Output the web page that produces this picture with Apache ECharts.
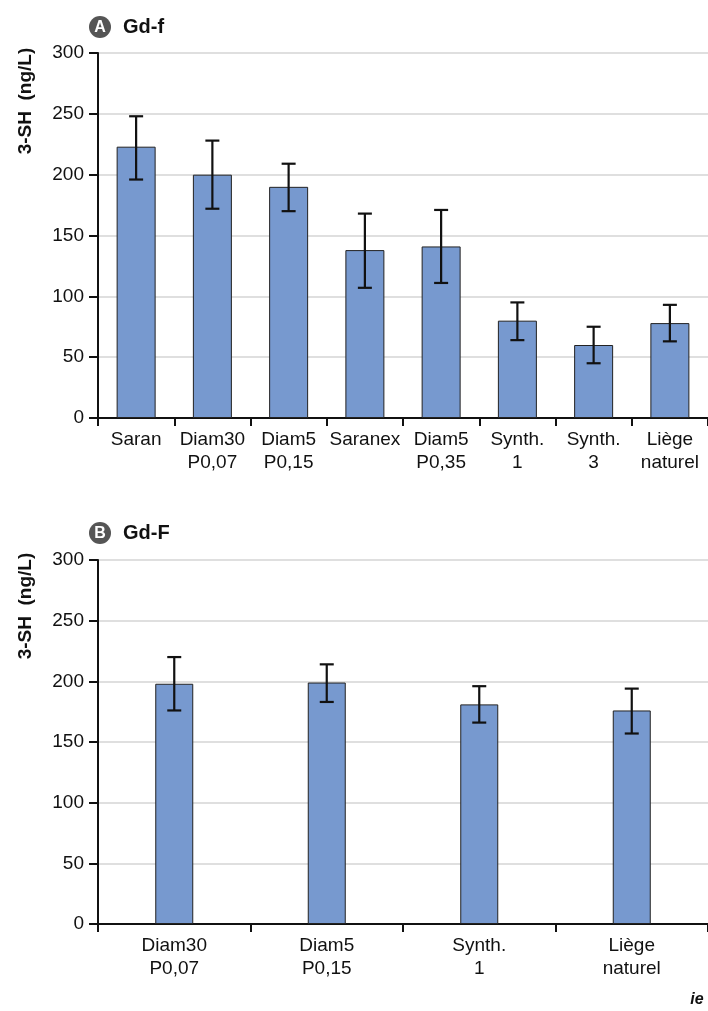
<!DOCTYPE html>
<html>
<head>
<meta charset="utf-8">
<script src="https://cdn.jsdelivr.net/npm/echarts@6/dist/echarts.min.js"></script>
<style>
  html, body { margin: 0; padding: 0; background: #fff; }
  #chart { width: 708px; height: 1011px; }
</style>
</head>
<body>
<div id="chart"></div>
<script>
// panel A : Gd-f
var catsA = ['Saran', 'Diam30\nP0,07', 'Diam5\nP0,15', 'Saranex', 'Diam5\nP0,35', 'Synth.\n1', 'Synth.\n3', 'Liège\nnaturel'];
var valsA = [223, 200, 190, 138, 141, 80, 60, 78];
var lowA  = [196, 172, 170, 107, 111, 64, 45, 63];
var highA = [248, 228, 209, 168, 171, 95, 75, 93];

// panel B : Gd-F
var catsB = ['Diam30\nP0,07', 'Diam5\nP0,15', 'Synth.\n1', 'Liège\nnaturel'];
var valsB = [198, 199, 181, 176];
var lowB  = [176, 183, 166, 157];
var highB = [220, 214, 196, 194];

var yTicks = [0, 50, 100, 150, 200, 250, 300];

var font = '"Liberation Sans", Arial, sans-serif';
var barColor = '#7799cf';

function errData(low, high) {
    var out = [];
    for (var i = 0; i < low.length; i++) out.push([i, low[i], high[i]]);
    return out;
}

function renderErr(params, api) {
    var lo = api.coord([api.value(0), api.value(1)]);
    var hi = api.coord([api.value(0), api.value(2)]);
    var cap = 7;
    var st = { stroke: '#111', lineWidth: 2.2 };
    return {
        type: 'group',
        children: [
            { type: 'line', shape: { x1: lo[0], y1: lo[1], x2: hi[0], y2: hi[1] }, style: st },
            { type: 'line', shape: { x1: lo[0] - cap, y1: lo[1], x2: lo[0] + cap, y2: lo[1] }, style: st },
            { type: 'line', shape: { x1: hi[0] - cap, y1: hi[1], x2: hi[0] + cap, y2: hi[1] }, style: st }
        ]
    };
}

function xAxis(cats, idx) {
    return {
        type: 'category', gridIndex: idx, data: cats,
        axisLine: { lineStyle: { color: '#111', width: 2 } },
        axisTick: { show: true, length: 8, lineStyle: { color: '#111', width: 2 } },
        axisLabel: { color: '#111', fontFamily: font, fontSize: 19, lineHeight: 23, margin: 10, interval: 0 }
    };
}

function yAxis(idx) {
    return {
        type: 'value', gridIndex: idx, min: 0, max: 300, interval: 50,
        axisLine: { show: true, lineStyle: { color: '#111', width: 2 } },
        axisTick: { show: true, length: 9, lineStyle: { color: '#111', width: 2 } },
        axisLabel: { color: '#111', fontFamily: font, fontSize: 19, margin: 14,
            formatter: function (v) { return yTicks.indexOf(v) >= 0 ? String(v) : ''; } },
        splitLine: { show: true, lineStyle: { color: '#d4d4d4', width: 1.5 } }
    };
}

function panelHeader(letter, label, cy, nameY) {
    return [
        { type: 'circle', shape: { cx: 100, cy: cy, r: 11 }, style: { fill: '#555' } },
        { type: 'text', x: 100, y: cy + 1, style: { text: letter, fill: '#fff', font: 'bold 16px ' + font, align: 'center', verticalAlign: 'middle' } },
        { type: 'text', x: 123, y: cy, style: { text: label, fill: '#111', font: 'bold 20px ' + font, verticalAlign: 'middle' } },
        { type: 'text', x: 26, y: nameY, rotation: Math.PI / 2,
          style: { text: '3-SH  (ng/L)', fill: '#111', font: 'bold 19px ' + font, align: 'center', verticalAlign: 'middle' } }
    ];
}

var chart = echarts.init(document.getElementById('chart'));
chart.setOption({
    animation: false,
    backgroundColor: '#fff',
    grid: [
        { left: 98, right: 0, top: 53, height: 365 },
        { left: 98, right: 0, top: 560, height: 364 }
    ],
    xAxis: [xAxis(catsA, 0), xAxis(catsB, 1)],
    yAxis: [yAxis(0), yAxis(1)],
    graphic: panelHeader('A', 'Gd-f', 27, 101)
        .concat(panelHeader('B', 'Gd-F', 533, 606))
        .concat([{ type: 'text', x: 697, y: 1000, style: { text: 'ie', fill: '#111', font: 'italic bold 16px ' + font, align: 'center', verticalAlign: 'middle' } }]),
    series: [
        { type: 'bar', xAxisIndex: 0, yAxisIndex: 0, data: valsA, barWidth: 39,
          itemStyle: { color: barColor, borderColor: '#222', borderWidth: 1 } },
        { type: 'custom', xAxisIndex: 0, yAxisIndex: 0, data: errData(lowA, highA), renderItem: renderErr, z: 10 },
        { type: 'bar', xAxisIndex: 1, yAxisIndex: 1, data: valsB, barWidth: 38,
          itemStyle: { color: barColor, borderColor: '#222', borderWidth: 1 } },
        { type: 'custom', xAxisIndex: 1, yAxisIndex: 1, data: errData(lowB, highB), renderItem: renderErr, z: 10 }
    ]
});
</script>
</body>
</html>
